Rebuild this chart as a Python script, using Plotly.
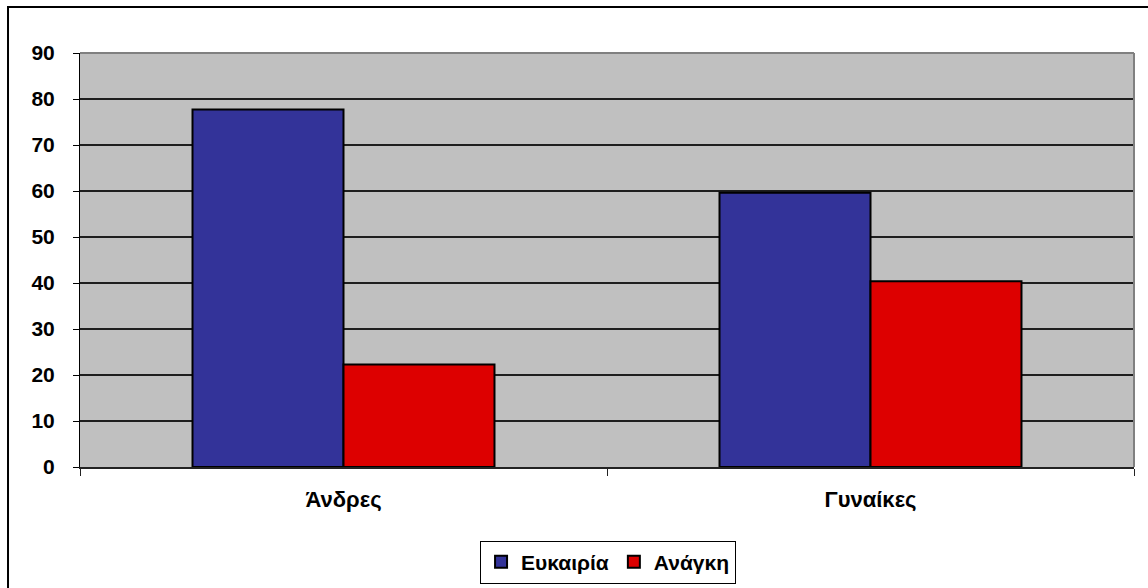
import plotly.graph_objects as go

categories = ["Άνδρες", "Γυναίκες"]
series_names = ["Ευκαιρία", "Ανάγκη"]
eukairia = [77.7, 59.6]
anagki = [22.3, 40.4]
y_ticks = [0, 10, 20, 30, 40, 50, 60, 70, 80, 90]

FAM = "Liberation Sans, Arial, sans-serif"

fig = go.Figure()
fig.add_trace(go.Bar(x=categories, y=eukairia, name=series_names[0],
                     marker=dict(color="#333399", line=dict(color="black", width=2))))
fig.add_trace(go.Bar(x=categories, y=anagki, name=series_names[1],
                     marker=dict(color="#DD0000", line=dict(color="black", width=2))))

fig.update_layout(
    width=1148, height=588,
    margin=dict(l=80, r=14, t=53, b=121, autoexpand=False),
    paper_bgcolor="white",
    plot_bgcolor="#C0C0C0",
    barmode="group",
    bargap=0.427,
    bargroupgap=0,
    font=dict(family=FAM, size=20, color="black"),
    showlegend=True,
    legend=dict(orientation="h", x=0.501, y=-0.178, xanchor="center", yanchor="top",
                bordercolor="black", borderwidth=1, bgcolor="white",
                font=dict(family=FAM, size=21, color="black", weight="bold"),
                itemwidth=30, traceorder="normal"),
    xaxis=dict(showgrid=False, showline=True, linecolor="#222222", linewidth=2,
               ticks="outside", tickson="boundaries", ticklen=7, tickcolor="#222222",
               ticklabelstandoff=12,
               tickfont=dict(family=FAM, size=22, color="black", weight="bold")),
    yaxis=dict(range=[0, 90], tickvals=y_ticks, showgrid=True, gridcolor="#1e1e1e",
               gridwidth=1.5, zeroline=False, showline=True, linecolor="black", linewidth=1,
               ticks="outside", ticklen=6, tickcolor="black", ticklabelstandoff=14,
               tickfont=dict(family=FAM, size=21, color="black", weight="bold")),
    shapes=[
        dict(type="line", xref="paper", yref="paper", x0=0, x1=1, y0=1, y1=1,
             line=dict(color="#808080", width=2)),
        dict(type="line", xref="paper", yref="paper", x0=1, x1=1, y0=0, y1=1,
             line=dict(color="#808080", width=2)),
        dict(type="rect", xref="paper", yref="paper", x0=-0.0683, x1=1.02,
             y0=-0.35, y1=1.111, line=dict(color="black", width=2), layer="below"),
    ],
)

fig.write_html("out.html")
